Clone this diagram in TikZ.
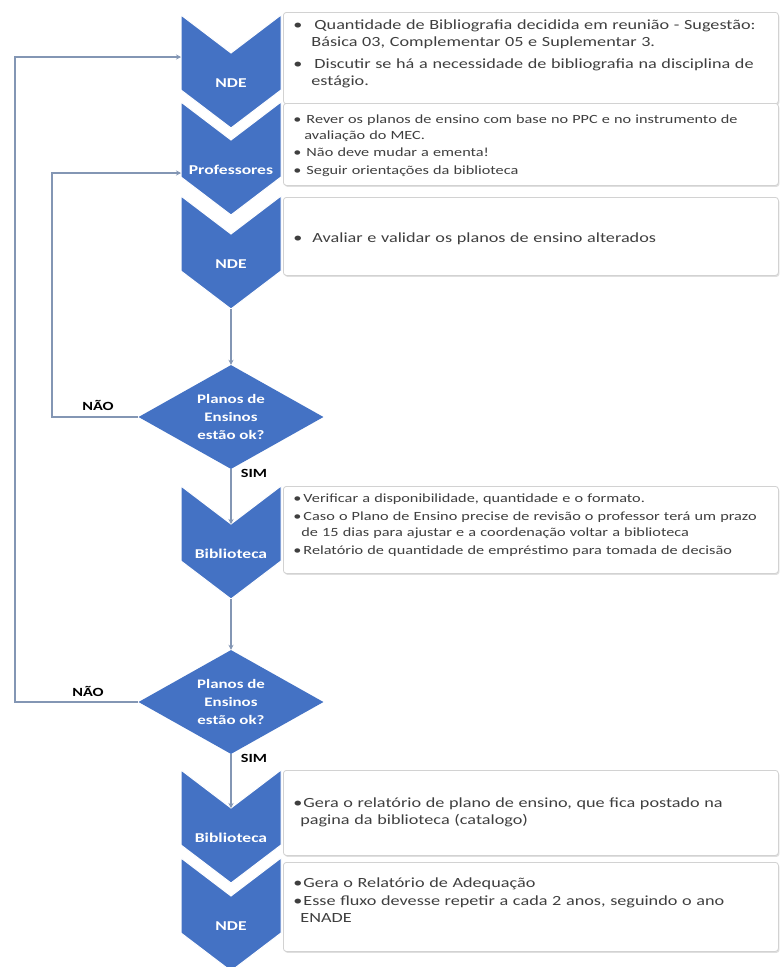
\documentclass[tikz,border=0pt]{standalone}
\usepackage{fontspec}
\setmainfont{Carlito}[FakeStretch=1.3]
\usepackage{enumitem}
\usetikzlibrary{shapes.geometric,arrows.meta,shadows}
\definecolor{chevblue}{HTML}{4472C4}
\definecolor{linkgray}{HTML}{8396B4}
\definecolor{boxline}{HTML}{D2D2D2}
\definecolor{bodytext}{HTML}{3F3F3F}
\tikzset{
CHEV/.style={fill=chevblue,draw=white,line width=1pt,line join=miter},
CHEVTEXT/.style={text=white,inner sep=0pt,font=\bfseries\fontsize{13.5}{15}\selectfont},
INFO/.style={draw=boxline,fill=white,rounded corners=3pt,line width=0.8pt,
	drop shadow={shadow xshift=1pt,shadow yshift=-1.5pt,opacity=0.25},
	anchor=north west,align=left,inner xsep=10pt,inner ysep=0pt,
	text width=475pt,text=bodytext},
DECIDE/.style={diamond,fill=chevblue,aspect=1.78,inner sep=0pt,
	minimum width=185pt,minimum height=104pt,align=center,text=white,
	font=\bfseries\fontsize{13}{18}\selectfont},
LINK/.style={draw=linkgray,line width=1.8pt,-{Stealth[length=5pt,width=5pt]}},
ANSWER/.style={font=\bfseries\fontsize{12.5}{14}\selectfont,inner sep=0pt},
BIG/.style={font=\fontsize{14}{17}\selectfont},
SMALL/.style={font=\fontsize{12.5}{15.5}\selectfont},
}
% chevron: name, top y, label
\newcommand{\chevron}[3]{%
	\path[CHEV] (181,#2) -- (231,#2+38) -- (281,#2) -- (281,#2+75)
		-- (231,#2+113) -- (181,#2+75) -- cycle;
	\coordinate (#1-notch) at (231,#2+38);
	\coordinate (#1-tip) at (231,#2+113);
	\node[CHEVTEXT] (#1) at (231,#2+68) {#3};
}
\newcommand{\bul}[1]{\begin{itemize}[label=\textbullet,align=left,labelwidth=6pt,
	labelsep=#1,leftmargin=\dimexpr6pt+#1\relax,topsep=0pt,partopsep=0pt,parsep=0pt,itemsep=3pt]}

\begin{document}
\begin{tikzpicture}
[x=1pt,y=-1pt]
	\useasboundingbox[fill=white] (0,0) rectangle (780,967);
	%Chevrons
	\chevron{ndeA}{15}{NDE}
	\chevron{prof}{102}{Professores}
	\chevron{ndeB}{196}{NDE}
	\chevron{bibA}{486}{Biblioteca}
	\chevron{bibB}{770}{Biblioteca}
	\chevron{ndeC}{858}{NDE}
	\coordinate (ndeA-in) at (181,57);
	\coordinate (prof-in) at (181,173);
	\coordinate (outer) at (15,0);
	\coordinate (inner) at (52,0);
	%Text boxes
	\node[INFO,BIG,minimum height=86pt] (infoA) at (283,12) {\bul{12pt}\itemsep=5pt
		\item Quantidade de Bibliografia decidida em reunião - Sugestão:\\
		Básica 03, Complementar 05 e Suplementar 3.
		\item Discutir se há a necessidade de bibliografia na disciplina de\\
		estágio.
	\end{itemize}\vspace{16pt}};
	\node[INFO,SMALL,minimum height=82pt] (infoB) at (283,103) {\bul{5pt}\itemsep=2pt
		\item Rever os planos de ensino com base no PPC e no instrumento de\\
		avaliação do MEC.
		\item Não deve mudar a ementa!
		\item Seguir orientações da biblioteca
	\end{itemize}\vspace{4pt}};
	\node[INFO,BIG,minimum height=78pt] (infoC) at (283,197) {\bul{10pt}
		\item Avaliar e validar os planos de ensino alterados
	\end{itemize}\vspace{3pt}};
	\node[INFO,SMALL,minimum height=87pt] (infoD) at (283,486) {\bul{2pt}
		\item Verificar a disponibilidade, quantidade e o formato.
		\item Caso o Plano de Ensino precise de revisão o professor terá um prazo\\
		de 15 dias para ajustar e a coordenação voltar a biblioteca
		\item Relatório de quantidade de empréstimo para tomada de decisão
	\end{itemize}\vspace{16pt}};
	\node[INFO,BIG,minimum height=85pt] (infoE) at (283,770) {\bul{1pt}
		\item Gera o relatório de plano de ensino, que fica postado na\\
		pagina da biblioteca (catalogo)
	\end{itemize}\vspace{8pt}};
	\node[INFO,BIG,minimum height=89pt] (infoF) at (283,862) {\bul{1pt}\itemsep=1pt
		\item Gera o Relatório de Adequação
		\item Esse fluxo devesse repetir a cada 2 anos, seguindo o ano\\
		ENADE
	\end{itemize}\vspace{20pt}};
	%Decisions
	\node[DECIDE] (okA) at (231,417) {Planos de\\Ensinos\\estão ok?};
	\node[DECIDE] (okB) at (231,702) {Planos de\\Ensinos\\estão ok?};
	%Connectors
	\draw[LINK] (ndeB-tip) -- (okA.north);
	\draw[LINK] (okA.south) -- node[ANSWER,pos=0.08,right=9pt] {SIM} (bibA-notch);
	\draw[LINK] (okA.west) -- (okA.west -| inner) |- (prof-in);
	\node[ANSWER,anchor=south] at (98,411) {NÃO};
	\draw[LINK] (bibA-tip) -- (okB.north);
	\draw[LINK] (okB.south) -- node[ANSWER,pos=0.08,right=9pt] {SIM} (bibB-notch);
	\draw[LINK] (okB.west) -- (okB.west -| outer) |- (ndeA-in);
	\node[ANSWER,anchor=south] at (88,697) {NÃO};
\end{tikzpicture}
\end{document}
